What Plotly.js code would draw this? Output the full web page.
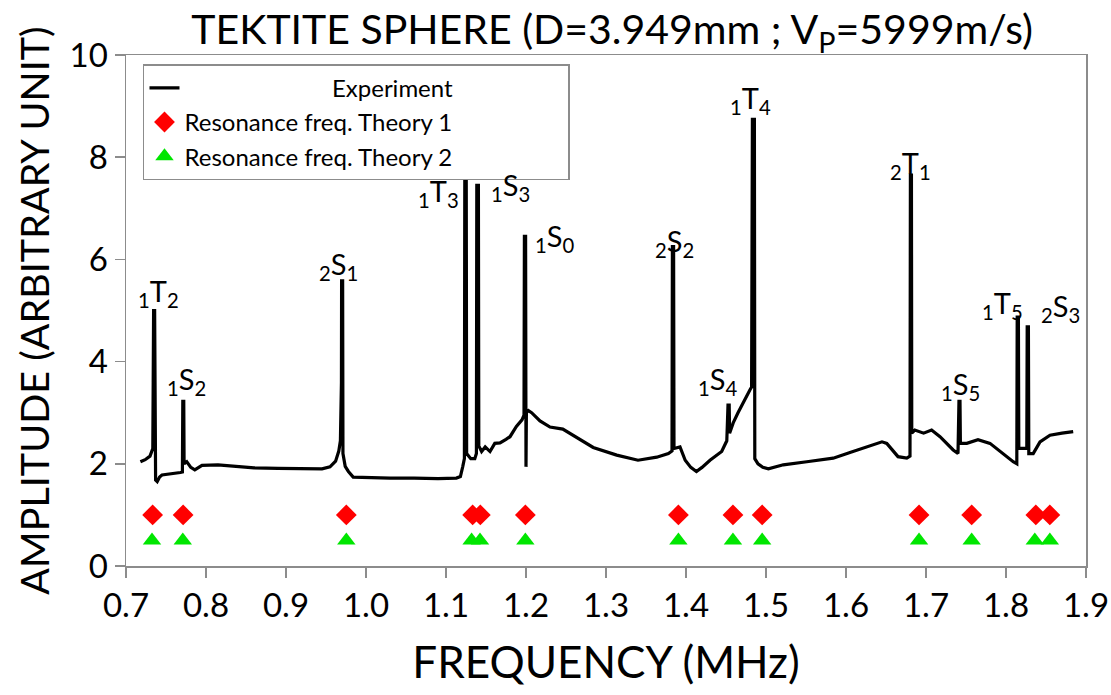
<!DOCTYPE html>
<html>
<head>
<meta charset="utf-8">
<script src="https://cdn.plot.ly/plotly-3.0.1.min.js"></script>
<style>html,body{margin:0;padding:0;background:#fff;}#chart{width:1111px;height:695px;}</style>
</head>
<body>
<div id="chart"></div>
<script>
// Experiment spectrum (MHz, arbitrary amplitude)
const expFreq = [0.718,0.724,0.730,0.7335,0.734,0.7345,0.7358,0.7362,0.7368,0.737,0.739,0.742,0.745,0.758,0.768,0.7705,0.771,0.7722,0.7726,0.776,0.781,0.786,0.795,0.815,0.835,0.86,0.89,0.92,0.945,0.955,0.962,0.966,0.968,0.9693,0.9695,0.9708,0.9712,0.974,0.978,0.984,1.0,1.03,1.06,1.09,1.113,1.118,1.121,1.123,1.1235,1.1253,1.1258,1.128,1.131,1.136,1.138,1.1385,1.1405,1.141,1.1445,1.149,1.155,1.161,1.1675,1.175,1.18,1.188,1.195,1.1975,1.198,1.1995,1.2,1.2005,1.203,1.207,1.2175,1.23,1.246,1.263,1.284,1.3134,1.34,1.3634,1.378,1.3825,1.383,1.3845,1.385,1.3925,1.399,1.406,1.413,1.42,1.43,1.4446,1.451,1.4525,1.454,1.4545,1.459,1.465,1.471,1.477,1.48,1.482,1.4825,1.483,1.4855,1.486,1.49,1.496,1.503,1.5216,1.551,1.584,1.605,1.626,1.645,1.651,1.665,1.676,1.68,1.6805,1.6818,1.6822,1.686,1.697,1.707,1.7175,1.734,1.74,1.7412,1.7425,1.743,1.751,1.765,1.78,1.7925,1.809,1.8135,1.814,1.8155,1.816,1.822,1.826,1.8265,1.828,1.8285,1.834,1.8425,1.855,1.87,1.884];
const expAmp  = [2.04,2.08,2.15,2.3,3.6,5.0,5.0,3.6,3.6,1.68,1.65,1.74,1.78,1.80,1.83,1.84,3.22,3.22,2.0,2.04,1.93,1.88,1.97,1.98,1.95,1.92,1.91,1.90,1.90,1.94,2.05,2.25,2.45,3.6,5.58,5.58,2.2,1.95,1.85,1.74,1.73,1.72,1.72,1.71,1.72,1.75,1.95,2.1,7.65,7.65,2.2,2.15,2.1,2.1,2.2,7.45,7.45,2.35,2.24,2.33,2.24,2.4,2.41,2.48,2.53,2.73,2.86,2.95,6.45,6.45,1.94,3.0,3.04,3.0,2.84,2.72,2.68,2.52,2.32,2.17,2.07,2.13,2.2,2.25,6.25,6.25,2.3,2.33,2.07,1.93,1.85,1.93,2.07,2.24,2.45,3.15,3.15,2.6,2.8,3.0,3.19,3.35,3.45,3.5,6.0,8.74,8.74,2.1,2.0,1.93,1.9,1.98,2.04,2.11,2.22,2.33,2.43,2.4,2.14,2.11,2.15,7.65,7.65,2.6,2.66,2.6,2.66,2.53,2.27,2.2,3.22,3.22,2.4,2.4,2.47,2.4,2.24,2.04,2.0,4.87,4.87,2.3,2.3,2.3,4.68,4.68,2.2,2.2,2.43,2.56,2.6,2.63];

// Theoretical resonance frequencies (MHz)
const theory1Freq = [0.7333,0.7714,0.9754,1.1333,1.1429,1.1992,1.3905,1.4587,1.4952,1.6913,1.7571,1.8373,1.8548];
const theory1Amp  = [1,1,1,1,1,1,1,1,1,1,1,1,1];
const theory2Freq = [0.7325,0.7710,0.9754,1.1320,1.1425,1.1992,1.3905,1.4587,1.4952,1.6913,1.7571,1.8360,1.8548];
const theory2Amp  = [0.5,0.5,0.5,0.5,0.5,0.5,0.5,0.5,0.5,0.5,0.5,0.5,0.5];

// Mode labels and their positions
const modeLabels = ['<sub>1</sub>T<sub>2</sub>','<sub>1</sub>S<sub>2</sub>','<sub>2</sub>S<sub>1</sub>','<sub>1</sub>T<sub>3</sub>','<sub>1</sub>S<sub>3</sub>','<sub>1</sub>S<sub>0</sub>','<sub>2</sub>S<sub>2</sub>','<sub>1</sub>S<sub>4</sub>','<sub>1</sub>T<sub>4</sub>','<sub>2</sub>T<sub>1</sub>','<sub>1</sub>S<sub>5</sub>','<sub>1</sub>T<sub>5</sub>','<sub>2</sub>S<sub>3</sub>'];
const labelFreq = [0.740,0.775,0.965,1.090,1.180,1.236,1.385,1.440,1.480,1.680,1.7425,1.796,1.8675];
const labelAmp  = [5.36,3.64,5.89,7.30,7.42,6.42,6.34,3.64,9.12,7.85,3.54,5.11,5.05];

const FONT = 'Lato, "Open Sans", sans-serif';
const NB = '\u00a0';

const traces = [
  {x: expFreq, y: expAmp, type: 'scatter', mode: 'lines', name: NB.repeat(24) + 'Experiment',
   line: {color: '#000', width: 3.2}},
  {x: theory1Freq, y: theory1Amp, type: 'scatter', mode: 'markers', name: 'Resonance freq. Theory 1' + NB.repeat(18),
   marker: {symbol: 'diamond', color: '#ff0000', size: 16}},
  {x: theory2Freq, y: theory2Amp, type: 'scatter', mode: 'markers', name: 'Resonance freq. Theory 2',
   marker: {symbol: 'triangle-up', color: '#00e600', size: 16}}
];

const annotations = modeLabels.map((t, i) => ({
  x: labelFreq[i], y: labelAmp[i], xref: 'x', yref: 'y', text: t, showarrow: false,
  xanchor: 'center', yanchor: 'middle', font: {family: FONT, size: 29, color: '#000'}
}));

const layout = {
  width: 1111, height: 695,
  margin: {l: 126, r: 25, t: 55, b: 129},
  paper_bgcolor: '#fff', plot_bgcolor: '#fff',
  font: {family: FONT, color: '#000'},
  title: {text: 'TEKTITE SPHERE (D=3.949mm ; V<sub>P</sub>=5999m/s)', font: {family: FONT, size: 41, color: '#000'},
          xref: 'container', yref: 'container', x: 0.551, xanchor: 'center', y: 0.957, yanchor: 'middle'},
  xaxis: {range: [0.7, 1.9], dtick: 0.1, tick0: 0.7, tickformat: '.1f', showgrid: false, zeroline: false,
          showline: true, linecolor: '#8c8c8c', linewidth: 1.5, mirror: true,
          ticks: 'outside', ticklen: 10, tickcolor: '#8c8c8c', tickwidth: 1.5,
          tickfont: {family: FONT, size: 33, color: '#000'},
          title: {text: 'FREQUENCY (MHz)', font: {family: FONT, size: 44, color: '#000'}, standoff: 24}},
  yaxis: {range: [0, 10], dtick: 2, showgrid: false, zeroline: false,
          showline: true, linecolor: '#8c8c8c', linewidth: 1.5, mirror: true,
          ticks: 'outside', ticklen: 10, tickcolor: '#8c8c8c', tickwidth: 1.5,
          tickfont: {family: FONT, size: 33, color: '#000'},
          title: {text: 'AMPLITUDE (ARBITRARY UNIT)', font: {family: FONT, size: 39.5, color: '#000'}, standoff: 8}},
  legend: {x: 0.0177, y: 0.982, xanchor: 'left', yanchor: 'top', bgcolor: '#fff',
           bordercolor: '#8c8c8c', borderwidth: 1.5, font: {family: FONT, size: 24, color: '#000'},
           tracegroupgap: 0, itemwidth: 30},
  showlegend: true,
  annotations: annotations
};

Plotly.newPlot('chart', traces, layout, {displayModeBar: false, staticPlot: true});
</script>
</body>
</html>
